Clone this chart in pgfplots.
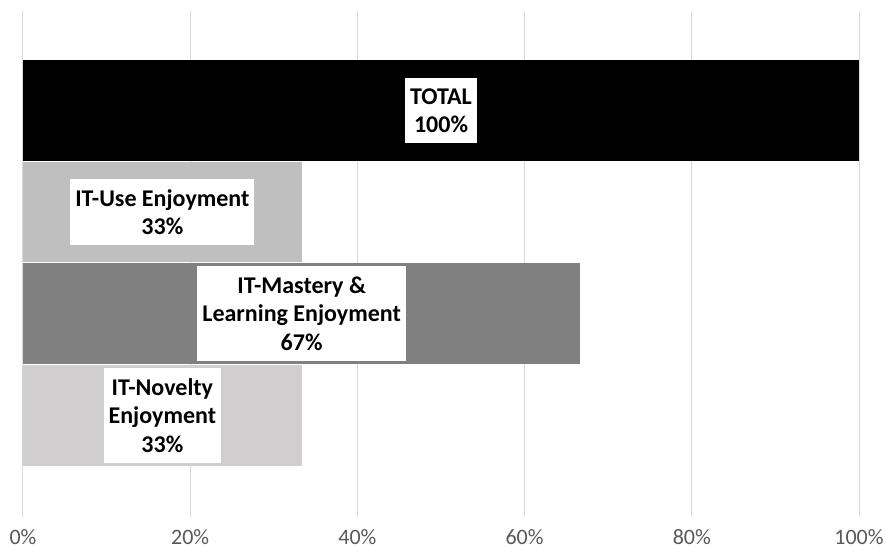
\documentclass[border=0pt]{standalone}
\usepackage{fontspec}
\setmainfont{Carlito}
\usepackage{pgfplots}
\pgfplotsset{compat=1.18}
\definecolor{usec}{HTML}{BFBFBF}
\definecolor{mastc}{HTML}{808080}
\definecolor{novc}{HTML}{D0CECE}
\definecolor{gridc}{HTML}{D9D9D9}
\definecolor{tickc}{HTML}{595959}
\begin{document}
\begin{tikzpicture}
\useasboundingbox (-23pt,-35pt) rectangle (863pt,517pt);
\begin{axis}[
  at={(0pt,0pt)}, anchor=south west,
  scale only axis, width=836pt, height=506pt,
  xmin=0, xmax=100, ymin=0, ymax=4.98,
  xbar, bar shift=0pt, bar width=0.99,
  axis line style={draw=none},
  ytick=\empty,
  xtick={0,20,40,60,80,100},
  xticklabels={0\%,20\%,40\%,60\%,80\%,100\%},
  major tick length=0pt,
  xmajorgrids, grid style={gridc, line width=1pt},
  xticklabel style={font=\fontsize{22}{26}\selectfont, text=tickc, yshift=-11pt, inner sep=1pt},
  clip=false,
]
\addplot[fill=black, draw=none] coordinates {(100,4)};
\addplot[fill=usec, draw=none] coordinates {(33.33,3)};
\addplot[fill=mastc, draw=none] coordinates {(66.67,2)};
\addplot[fill=novc, draw=none] coordinates {(33.33,1)};
\tikzset{lbl/.style={fill=white, align=center, inner xsep=5pt, inner ysep=10.5pt, font=\bfseries\fontsize{24}{28.5}\selectfont}}
\node[lbl] at (axis cs:50,4) {TOTAL\\100\%};
\node[lbl] at (axis cs:16.67,3) {IT-Use Enjoyment\\33\%};
\node[lbl] at (axis cs:33.33,2) {IT-Mastery \&\\Learning Enjoyment\\67\%};
\node[lbl] at (axis cs:16.67,1) {IT-Novelty\\Enjoyment\\33\%};
\end{axis}
\end{tikzpicture}
\end{document}
